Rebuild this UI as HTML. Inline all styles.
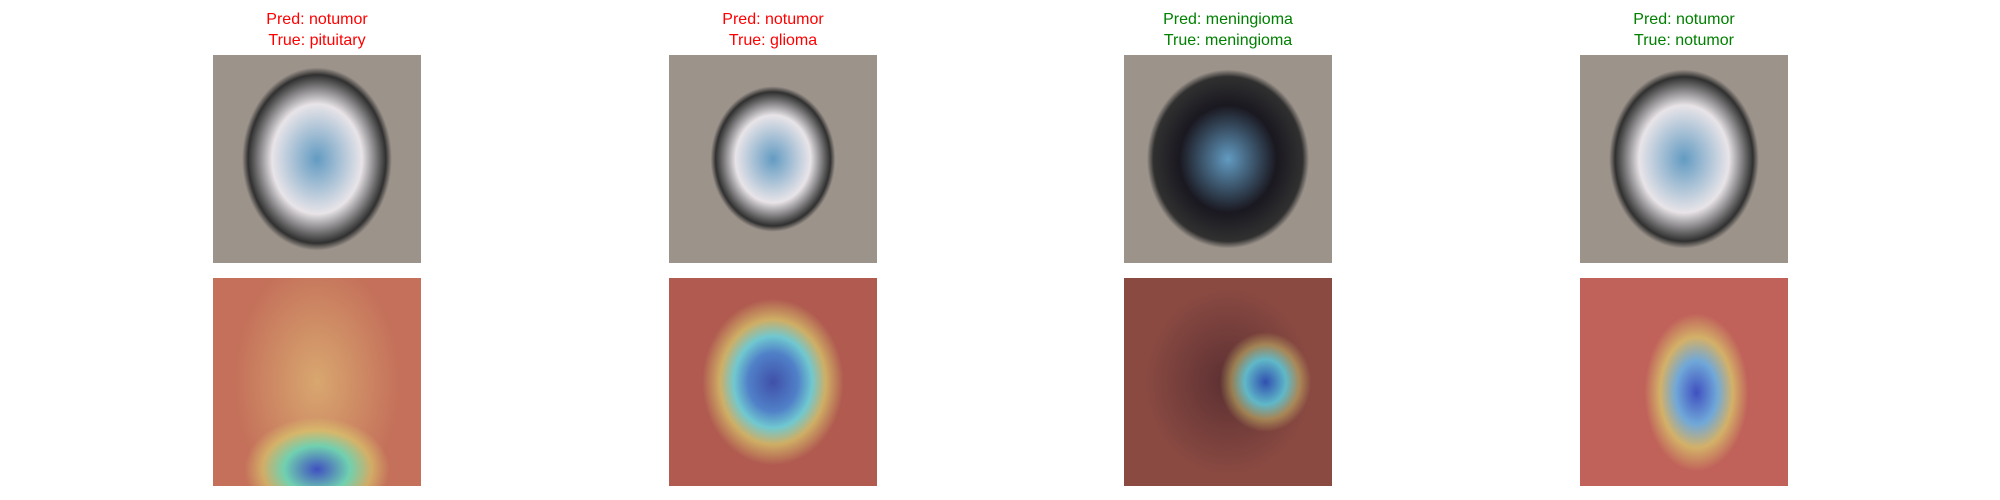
<!DOCTYPE html>
<html><head><meta charset="utf-8"><style>
body{margin:0;width:2000px;height:500px;background:#fff;position:relative;overflow:hidden;font-family:"Liberation Sans","DejaVu Sans",sans-serif}
.t{position:absolute;width:300px;text-align:center;font-size:16px;line-height:21px}
.p{position:absolute;width:208px;height:208px;overflow:hidden}
</style></head><body>
<div id="root"></div>
<script>
const titlesPred=["notumor","notumor","meningioma","notumor"];
const titlesTrue=["pituitary","glioma","meningioma","notumor"];
const lefts=[213,669,1124,1580];
const brains=[[0.72,0.88],[0.6,0.7],[0.78,0.86],[0.72,0.86]];
const heat=[
"radial-gradient(ellipse 35% 25% at 50% 92%,#4050c0 0%,#70d0b0 45%,rgba(220,210,110,.6) 75%,transparent 100%),radial-gradient(ellipse 40% 60% at 50% 50%,rgba(225,190,120,.7),transparent),#c4705a",
"radial-gradient(ellipse 34% 40% at 50% 50%,#4050a8 0%,#5080c8 35%,#70c8d0 55%,rgba(220,210,110,.7) 75%,transparent 100%),#b05a50",
"radial-gradient(ellipse 22% 24% at 68% 50%,#3050b0 0%,#60b8c8 45%,rgba(210,200,110,.5) 75%,transparent 100%),radial-gradient(ellipse 40% 45% at 50% 50%,rgba(60,30,40,.6),transparent),#8a4a42",
"radial-gradient(ellipse 25% 38% at 56% 55%,#4050c0 0%,#70a8d8 40%,rgba(220,210,110,.7) 70%,transparent 100%),#c0625a"];
const root=document.getElementById('root');
for(let i=0;i<4;i++){
  const c=titlesPred[i]===titlesTrue[i]?'#008000':'#ff0000';
  const t=document.createElement('div');t.className='t';
  
  
  t.style.left=(lefts[i]+104-150)+'px';t.style.top='9px';t.style.color=c;
  t.innerHTML='Pred: '+titlesPred[i]+'<br>True: '+titlesTrue[i];
  root.appendChild(t);
  const [w,h]=brains[i];
  const top=document.createElement('div');top.className='p';
  
  
  top.style.left=lefts[i]+'px';top.style.top='55px';
  const inner=i==2?'#1a1820':'#e8e4e8';
  top.style.background=`radial-gradient(ellipse ${w*50}% ${h*50}% at 50% 50%,rgba(60,160,230,.6) 0%,${inner} 60%,#303030 92%,#9c938b 100%),#9c938b`;
  root.appendChild(top);
  const b=document.createElement('div');b.className='p';
  
  
  b.style.left=lefts[i]+'px';b.style.top='278px';
  b.style.background=heat[i];
  root.appendChild(b);
}
</script>
</body></html>
